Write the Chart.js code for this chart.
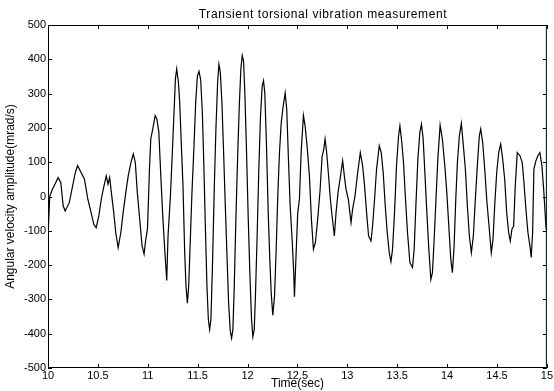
<!DOCTYPE html>
<html>
<head>
<meta charset="utf-8">
<script src="https://cdn.jsdelivr.net/npm/chart.js@4.4.1/dist/chart.umd.min.js"></script>
<style>
    html, body { margin: 0; padding: 0; background: #ffffff; }
    #wrap { width: 554px; height: 391px; }
</style>
</head>
<body>
<div id="wrap"><canvas id="vibChart" width="554" height="391"></canvas></div>
<script>
// Transient torsional vibration trace
const timeSec = [
    10.000, 10.017, 10.044, 10.078, 10.101, 10.128, 10.152, 10.172, 10.213, 10.247,
    10.274, 10.297, 10.331, 10.365, 10.399, 10.432, 10.459, 10.483, 10.510, 10.534,
    10.561, 10.584, 10.601, 10.618, 10.635, 10.659, 10.679, 10.703, 10.730, 10.753,
    10.780, 10.804, 10.831, 10.855, 10.875, 10.895, 10.922, 10.943, 10.963, 10.980,
    10.997, 11.017, 11.030, 11.050, 11.074, 11.091, 11.111, 11.132, 11.152, 11.172,
    11.190, 11.203, 11.227, 11.243, 11.260, 11.277, 11.290, 11.307, 11.320, 11.337,
    11.353, 11.370, 11.383, 11.397, 11.410, 11.423, 11.443, 11.463, 11.480, 11.497,
    11.513, 11.530, 11.547, 11.563, 11.577, 11.593, 11.607, 11.620, 11.633, 11.650,
    11.667, 11.683, 11.700, 11.713, 11.727, 11.743, 11.760, 11.777, 11.793, 11.810,
    11.827, 11.840, 11.853, 11.867, 11.883, 11.900, 11.917, 11.933, 11.947, 11.960,
    11.973, 11.990, 12.007, 12.023, 12.040, 12.053, 12.067, 12.080, 12.097, 12.113,
    12.130, 12.147, 12.160, 12.173, 12.190, 12.207, 12.223, 12.237, 12.253, 12.270,
    12.287, 12.303, 12.320, 12.337, 12.357, 12.377, 12.393, 12.410, 12.427, 12.447,
    12.463, 12.470, 12.487, 12.503, 12.520, 12.537, 12.560, 12.577, 12.597, 12.620,
    12.640, 12.660, 12.680, 12.703, 12.727, 12.747, 12.763, 12.777, 12.793, 12.810,
    12.830, 12.847, 12.870, 12.887, 12.907, 12.927, 12.953, 12.970, 12.987, 13.010,
    13.037, 13.053, 13.077, 13.103, 13.130, 13.153, 13.173, 13.193, 13.213, 13.237,
    13.253, 13.273, 13.293, 13.320, 13.340, 13.360, 13.380, 13.400, 13.420, 13.437,
    13.453, 13.473, 13.493, 13.513, 13.527, 13.543, 13.563, 13.583, 13.603, 13.627,
    13.653, 13.670, 13.687, 13.707, 13.727, 13.743, 13.760, 13.777, 13.797, 13.817,
    13.837, 13.853, 13.870, 13.890, 13.907, 13.930, 13.953, 13.977, 13.997, 14.017,
    14.037, 14.053, 14.070, 14.087, 14.103, 14.123, 14.143, 14.163, 14.183, 14.203,
    14.223, 14.243, 14.263, 14.283, 14.303, 14.323, 14.337, 14.357, 14.377, 14.397,
    14.420, 14.443, 14.460, 14.477, 14.497, 14.517, 14.537, 14.557, 14.577, 14.597,
    14.617, 14.633, 14.650, 14.667, 14.683, 14.703, 14.730, 14.753, 14.770, 14.790,
    14.810, 14.830, 14.843, 14.857, 14.870, 14.890, 14.910, 14.930, 14.950, 14.970,
    14.990, 15.000
];

const velocity = [
    -120, 0, 21, 41, 55, 41, -27, -42, -18, 31,
    70, 90, 70, 51, -8, -47, -81, -91, -56, -8,
    31, 60, 36, 55, 12, -47, -105, -149, -105, -47,
    12, 60, 99, 124, 99, 12, -76, -144, -168, -125,
    -95, 80, 168, 197, 236, 226, 187, 51, -66, -164,
    -245, -115, 2, 107, 224, 343, 372, 333, 275, 146,
    31, -164, -261, -311, -261, -154, 12, 146, 273, 351,
    365, 341, 244, 80, -86, -261, -358, -388, -358, -183,
    31, 197, 333, 385, 362, 275, 129, -27, -164, -310,
    -393, -413, -388, -261, -66, 109, 263, 372, 411, 394,
    302, 129, -66, -222, -358, -409, -388, -281, -105, 80,
    236, 323, 338, 302, 148, -47, -183, -281, -346, -292,
    -154, 2, 128, 214, 263, 302, 253, 107, -27, -127,
    -224, -292, -164, -47, -8, 129, 236, 205, 146, 60,
    -66, -154, -134, -66, 19, 117, 136, 168, 128, 68,
    -8, -56, -115, -47, 12, 51, 104, 60, 21, -8,
    -76, -37, 2, 68, 128, 90, 31, -47, -115, -130,
    -86, -8, 80, 148, 128, 68, -27, -105, -164, -190,
    -154, -47, 90, 175, 206, 166, 99, -8, -105, -193,
    -207, -154, -27, 109, 187, 211, 168, 70, -47, -154,
    -242, -222, -127, 2, 109, 208, 166, 90, 12, -86,
    -183, -222, -146, -8, 99, 177, 213, 148, 80, -27,
    -115, -164, -115, -8, 90, 177, 197, 156, 80, -8,
    -86, -164, -125, -27, 70, 128, 153, 109, 51, -47,
    -105, -130, -95, -86, 31, 128, 119, 99, 41, -37,
    -105, -144, -178, -105, 80, 104, 119, 128, 90, 12,
    -86, -105
];

const xTickStep = 0.5;
const yTickStep = 100;
const chartTitle = 'Transient torsional vibration measurement';

Chart.defaults.font.family = '"Liberation Sans", Arial, Helvetica, sans-serif';
Chart.defaults.font.size = 11;
Chart.defaults.color = '#000000';

// MATLAB style frame: full box with ticks pointing inwards on all four sides
const matlabFrame = {
    id: 'matlabFrame',
    afterDraw(chart) {
        const { ctx, chartArea: area, scales } = chart;
        const len = 4;
        ctx.save();
        ctx.strokeStyle = '#000000';
        ctx.lineWidth = 1;
        ctx.strokeRect(area.left + 0.5, area.top + 0.5, area.right - area.left - 1, area.bottom - area.top - 1);
        ctx.beginPath();
        scales.x.ticks.forEach(t => {
            const px = Math.round(scales.x.getPixelForValue(t.value)) + 0.5;
            ctx.moveTo(px, area.bottom);
            ctx.lineTo(px, area.bottom - len);
            ctx.moveTo(px, area.top);
            ctx.lineTo(px, area.top + len);
        });
        scales.y.ticks.forEach(t => {
            const py = Math.round(scales.y.getPixelForValue(t.value)) + 0.5;
            ctx.moveTo(area.left, py);
            ctx.lineTo(area.left + len, py);
            ctx.moveTo(area.right, py);
            ctx.lineTo(area.right - len, py);
        });
        ctx.stroke();

        // title sits a bit right of centre in the original figure
        ctx.font = '12px "Liberation Sans", Arial, sans-serif';
        ctx.fillStyle = '#000000';
        ctx.textAlign = 'center';
        ctx.textBaseline = 'middle';
        ctx.letterSpacing = '0.6px';
        ctx.fillText(chartTitle, 323, 15);
        ctx.restore();
    }
};

const vibCtx = document.getElementById('vibChart').getContext('2d');

new Chart(vibCtx, {
    type: 'line',
    data: {
        datasets: [{
            label: 'Angular velocity',
            data: timeSec.map((t, i) => ({ x: t, y: velocity[i] })),
            borderColor: '#000000',
            borderWidth: 1.2,
            pointRadius: 0,
            tension: 0,
            fill: false
        }]
    },
    options: {
        responsive: false,
        animation: false,
        layout: {
            padding: { top: 25, right: 6, left: 0, bottom: 0 }
        },
        plugins: {
            legend: { display: false },
            tooltip: { enabled: false }
        },
        scales: {
            x: {
                type: 'linear',
                min: 10,
                max: 15,
                grid: { display: false, drawTicks: false },
                border: { display: false },
                ticks: {
                    stepSize: xTickStep,
                    padding: 1,
                    maxRotation: 0,
                    callback: value => String(value)
                },
                title: {
                    display: true,
                    text: 'Time(sec)',
                    font: { size: 12 },
                    padding: { top: 0, bottom: 0 }
                },
                afterFit(scale) {
                    scale.height = 23;
                }
            },
            y: {
                type: 'linear',
                min: -500,
                max: 500,
                grid: { display: false, drawTicks: false },
                border: { display: false },
                ticks: {
                    stepSize: yTickStep,
                    padding: 2
                },
                title: {
                    display: true,
                    text: 'Angular velocity amplitude(mrad/s)',
                    font: { size: 12 },
                    padding: { top: 3, bottom: 0 }
                },
                afterFit(scale) {
                    scale.width = 48;
                }
            }
        }
    },
    plugins: [matlabFrame]
});
</script>
</body>
</html>
